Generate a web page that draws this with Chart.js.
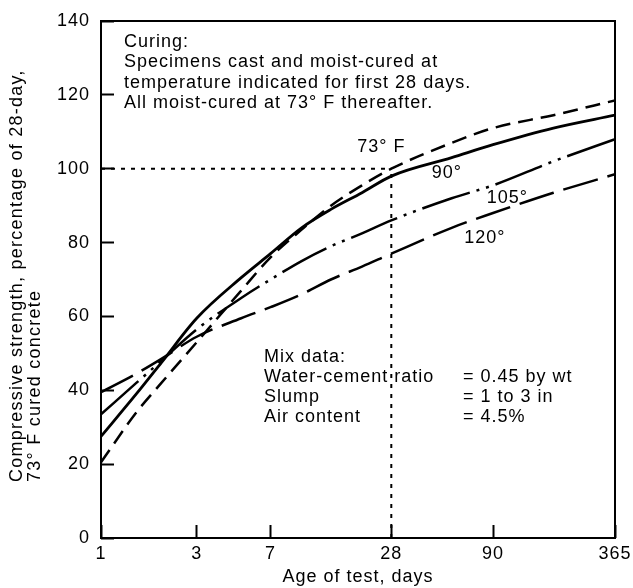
<!DOCTYPE html>
<html>
<head>
<meta charset="utf-8">
<script src="https://cdn.jsdelivr.net/npm/chart.js@4/dist/chart.umd.min.js"></script>
<style>
  html, body { margin: 0; padding: 0; background: #ffffff; }
  canvas { display: block; }
</style>
</head>
<body>
<canvas id="chart" width="633" height="588"></canvas>
<script>
// ---------------- data ----------------
const ages = [1, 1.5, 2, 3, 5, 7, 10, 14, 20, 28, 56, 90, 180, 365];
const strength73F = [20.5, 34, 42, 53, 67, 76, 83.5, 90, 95.5, 100, 107, 111, 114.5, 118.5];
const strength90F = [27.5, 39, 47.5, 59.5, 70.5, 77, 84, 89, 93.5, 98, 103, 106.5, 111, 114.5];
const strength105F = [33.5, 42, 48, 56.5, 65, 70, 75, 79, 82.5, 86, 92, 95.5, 102, 108];
const strength120F = [39.5, 44.5, 48.5, 54.5, 59.5, 62.5, 66, 70, 73.5, 77, 84, 88, 93.5, 98.5];

const ageTicks = [1, 3, 7, 28, 90, 365];
const strengthTicks = [0, 20, 40, 60, 80, 100, 120, 140];
const referenceAge = 28;
const referenceStrength = 100;

const seriesNames = ["73° F", "90°", "105°", "120°"];
const curingNote = [
  "Curing:",
  "Specimens cast and moist-cured at",
  "temperature indicated for first 28 days.",
  "All moist-cured at 73° F thereafter."
];
const mixTitle = "Mix data:";
const mixItems = ["Water-cement ratio", "Slump", "Air content"];
const mixValues = ["= 0.45 by wt", "= 1 to 3 in", "= 4.5%"];
const xTitle = "Age of test, days";
const yTitle = ["Compressive strength, percentage of 28-day,", "73° F cured concrete"];

// label anchors in data units (age, strength)
const labelAnchors = [
  { age: 25, strength: 106 },
  { age: 53, strength: 98.8 },
  { age: 106, strength: 92.1 },
  { age: 82, strength: 81.2 }
];

// ---------------- chart ----------------
const FONT_FAMILY = "'Liberation Sans', Arial, Helvetica, sans-serif";
const FONT_SIZE = 18;
Chart.defaults.font.family = FONT_FAMILY;
Chart.defaults.font.size = FONT_SIZE;
Chart.defaults.color = '#000';

function pts(values) {
  return ages.map((a, i) => ({ x: a, y: values[i] }));
}

const lineBase = {
  borderColor: '#000',
  backgroundColor: '#000',
  borderWidth: 2.5,
  pointRadius: 0,
  fill: false,
  cubicInterpolationMode: 'monotone'
};

function noPad(s) {
  s.paddingLeft = 0; s.paddingRight = 0; s.paddingTop = 0; s.paddingBottom = 0;
}

const annotate = {
  id: 'annotate',
  beforeUpdate(chart) { chart.ctx.letterSpacing = '1px'; },
  beforeDraw(chart) { chart.ctx.letterSpacing = '1px'; },
  afterDraw(chart) {
    const { ctx, chartArea: a, scales: { x, y } } = chart;
    ctx.save();
    ctx.letterSpacing = '1px';
    ctx.fillStyle = '#000';
    ctx.font = FONT_SIZE + 'px ' + FONT_FAMILY;

    // plot frame
    ctx.lineWidth = 2;
    ctx.strokeStyle = '#000';
    ctx.strokeRect(a.left, a.top, a.right - a.left, a.bottom - a.top);

    // curing note
    ctx.textAlign = 'left';
    ctx.textBaseline = 'alphabetic';
    curingNote.forEach((t, i) => ctx.fillText(t, a.left + 23, a.top + 26 + i * 20.3));

    // mix data
    const mx = a.left + 163;
    const my = a.top + 341;
    ctx.fillText(mixTitle, mx, my);
    mixItems.forEach((t, i) => ctx.fillText(t, mx, my + 20 * (i + 1)));
    mixValues.forEach((t, i) => ctx.fillText(t, a.left + 362, my + 20 * (i + 1)));

    // curve labels
    ctx.textAlign = 'center';
    ctx.textBaseline = 'middle';
    seriesNames.forEach((t, i) => {
      ctx.fillText(t, x.getPixelForValue(labelAnchors[i].age), y.getPixelForValue(labelAnchors[i].strength));
    });

    // y axis title (two lines, rotated, starting from bottom)
    ctx.letterSpacing = '1.25px';
    ctx.textAlign = 'left';
    ctx.textBaseline = 'middle';
    [17, 35].forEach((cx, i) => {
      ctx.save();
      ctx.translate(cx, a.bottom - 56);
      ctx.rotate(-Math.PI / 2);
      ctx.fillText(yTitle[i], 0, 0);
      ctx.restore();
    });
    ctx.restore();
  }
};

new Chart(document.getElementById('chart'), {
  type: 'line',
  data: {
    datasets: [
      { ...lineBase, label: seriesNames[0], data: pts(strength73F), borderDash: [15, 8] },
      { ...lineBase, label: seriesNames[1], data: pts(strength90F), borderWidth: 2.8 },
      { ...lineBase, label: seriesNames[2], data: pts(strength105F), borderDash: [50, 7, 3, 7, 3, 7] },
      { ...lineBase, label: seriesNames[3], data: pts(strength120F), borderDash: [36, 10] },
      { ...lineBase, label: 'ref-h', borderWidth: 2, borderDash: [4, 6], cubicInterpolationMode: 'default',
        data: [{ x: ageTicks[0], y: referenceStrength }, { x: referenceAge, y: referenceStrength }] },
      { ...lineBase, label: 'ref-v', borderWidth: 2, borderDash: [4, 6], cubicInterpolationMode: 'default',
        data: [{ x: referenceAge, y: strengthTicks[0] }, { x: referenceAge, y: referenceStrength }] }
    ]
  },
  options: {
    responsive: false,
    animation: false,
    devicePixelRatio: 1,
    layout: { padding: { left: 0, top: 21, right: 18, bottom: 0 } },
    plugins: { legend: { display: false }, tooltip: { enabled: false }, title: { display: false } },
    scales: {
      x: {
        type: 'logarithmic',
        min: ageTicks[0],
        max: ageTicks[ageTicks.length - 1],
        afterBuildTicks: s => { s.ticks = ageTicks.map(v => ({ value: v })); },
        afterFit: s => { s.height = 50; noPad(s); },
        ticks: { autoSkip: false, maxRotation: 0, padding: 18, callback: v => String(v), font: { size: FONT_SIZE } },
        grid: { drawOnChartArea: false, drawTicks: true, tickLength: -13, tickWidth: 2, tickColor: '#000' },
        border: { display: false },
        title: { display: true, text: xTitle, padding: { top: 0, bottom: 0 }, font: { size: FONT_SIZE } }
      },
      y: {
        type: 'linear',
        min: strengthTicks[0],
        max: strengthTicks[strengthTicks.length - 1],
        afterBuildTicks: s => { s.ticks = strengthTicks.map(v => ({ value: v })); },
        afterFit: s => { s.width = 101; noPad(s); },
        ticks: { padding: 24, font: { size: FONT_SIZE } },
        grid: { drawOnChartArea: false, drawTicks: true, tickLength: -13, tickWidth: 2, tickColor: '#000' },
        border: { display: false }
      }
    }
  },
  plugins: [annotate]
});
</script>
</body>
</html>
